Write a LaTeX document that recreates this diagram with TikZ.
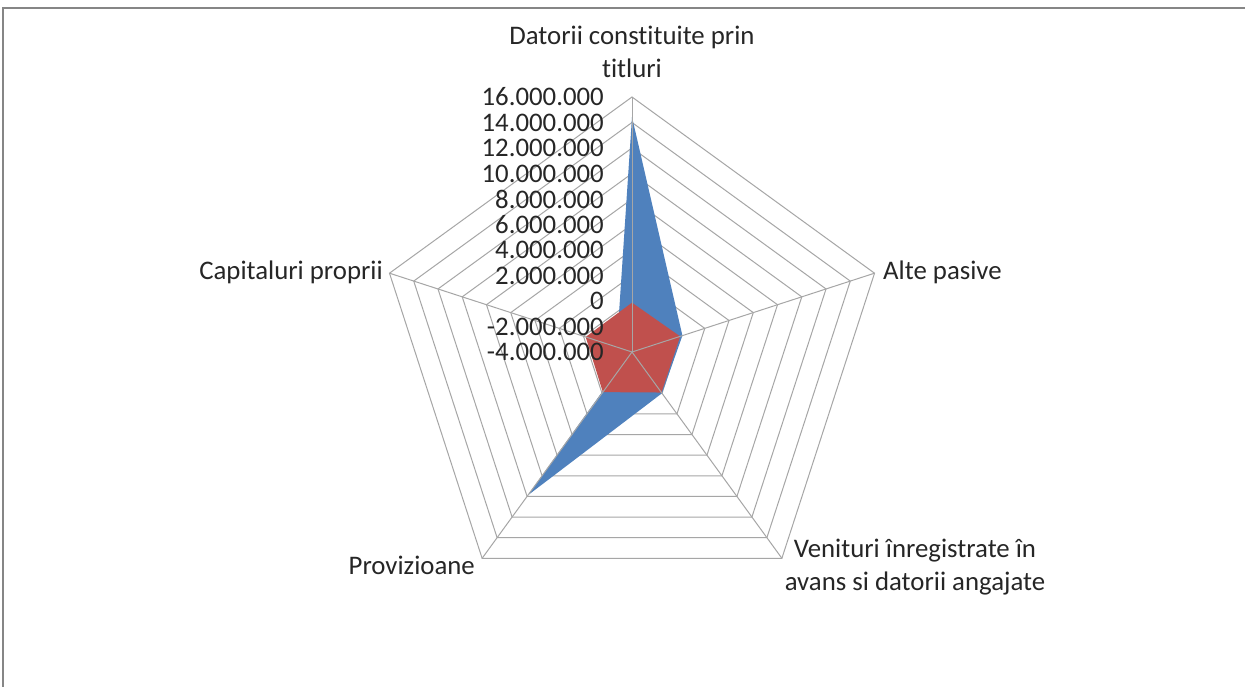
\documentclass[tikz,border=0pt]{standalone}
\usepackage{fontspec}
\setmainfont{Carlito}[Ligatures=NoCommon]
\definecolor{gridc}{RGB}{166,166,166}
\definecolor{framec}{RGB}{134,134,134}
\definecolor{serblue}{RGB}{79,129,189}
\definecolor{serred}{RGB}{192,80,77}
\begin{document}
\begin{tikzpicture}[x=1pt,y=-1pt,
  lbl/.style={inner sep=0pt,font=\fontsize{26.8}{33}\selectfont,text=black!85},
  gridline/.style={draw=gridc,line width=1pt},
  framel/.style={draw=framec,line width=2pt}]
\useasboundingbox (0,0) rectangle (1245,687);
\fill[white] (0,0) rectangle (1245,687);
\draw[framel] (3,687) -- (3,8) -- (1245,8);
\begin{scope}[shift={(632,352)}]
  \coordinate (O) at (0,0);
  % rings
  \foreach \k in {1,...,10}{
    \pgfmathsetmacro\rr{25.5*\k}
    \draw[gridline] (90:\rr pt) -- (18:\rr pt) -- (-54:\rr pt) -- (-126:\rr pt) -- (162:\rr pt) -- cycle;
  }
  % series
  \coordinate (bC) at (-17,22);
  \fill[serblue] (90:235pt) -- (18:53pt) -- (-54:51pt) -- (-126:177pt) -- (bC) -- cycle;
  \fill[serred] (90:49.3pt) -- (18:50.6pt) -- (-54:50.1pt) -- (-126:49.6pt) -- (162:48.7pt) -- cycle;
  % spokes
  \foreach \a [count=\i] in {90,18,-54,-126,162}{
    \coordinate (S\i) at (\a:255pt);
    \draw[gridline] (O) -- (S\i);
  }
\end{scope}
% value labels
\node[lbl,anchor=east] (v0) at (604,352) {-4.000.000};
\node[lbl,anchor=east] (v1) at (604,326.5) {-2.000.000};
\node[lbl,anchor=east] (v2) at (604,301) {0};
\node[lbl,anchor=east] (v3) at (604,275.5) {2.000.000};
\node[lbl,anchor=east] (v4) at (604,250) {4.000.000};
\node[lbl,anchor=east] (v5) at (604,224.5) {6.000.000};
\node[lbl,anchor=east] (v6) at (604,199) {8.000.000};
\node[lbl,anchor=east] (v7) at (604,173.5) {10.000.000};
\node[lbl,anchor=east] (v8) at (604,148) {12.000.000};
\node[lbl,anchor=east] (v9) at (604,122.5) {14.000.000};
\node[lbl,anchor=east] (v10) at (604,97) {16.000.000};
% category labels
\node[lbl,align=center,anchor=base] (c1) at (632,78) {Datorii constituite prin\\titluri};
\node[lbl,anchor=base west] (c2) at (883,279) {Alte pasive};
\node[lbl,align=center,anchor=base] (c3) at (915,590) {Venituri înregistrate în\\avans si datorii angajate};
\node[lbl,anchor=base east] (c4) at (475,574) {Provizioane};
\node[lbl,anchor=base east] (c5) at (383,279) {Capitaluri proprii};
\end{tikzpicture}
\end{document}
